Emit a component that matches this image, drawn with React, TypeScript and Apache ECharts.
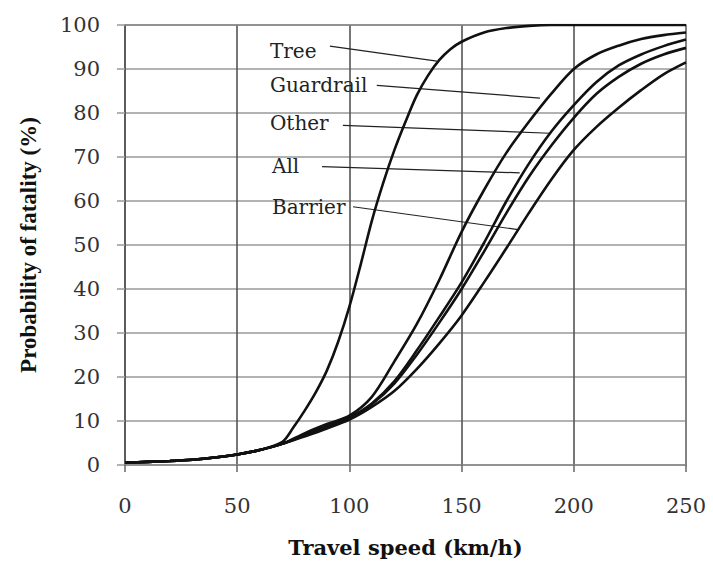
import React, { useEffect, useRef } from "react";
import * as echarts from "echarts";

const speeds = [0, 10, 20, 30, 40, 50, 60, 70, 80, 90, 100, 110, 120, 130, 140, 150, 160, 170, 180, 190, 200, 210, 220, 230, 240, 250];
const guardrail = [0.5, 0.7, 0.9, 1.2, 1.7, 2.4, 3.4, 4.8, 7.2, 9.3, 11.2, 15.5, 23.5, 32, 42, 53, 62.5, 71, 78, 84.4, 90, 93.3, 95.3, 96.8, 97.7, 98.3];
const other = [0.5, 0.7, 0.9, 1.2, 1.7, 2.4, 3.4, 4.8, 6.9, 8.8, 10.8, 14, 19, 26, 33.6, 41.5, 50.5, 60, 68.5, 75.8, 81.8, 87, 90.8, 93.3, 95.2, 96.7];
const all = [0.5, 0.7, 0.9, 1.2, 1.7, 2.4, 3.4, 4.8, 6.7, 8.6, 10.6, 13.8, 18.5, 25, 32.3, 40, 48.5, 57.3, 65.5, 72.6, 78.9, 84.3, 88.2, 91.2, 93.3, 94.8];
const barrier = [0.5, 0.7, 0.9, 1.2, 1.7, 2.4, 3.4, 4.8, 6.5, 8.3, 10.3, 13.2, 16.8, 21.8, 27.6, 34, 41.5, 49.3, 57.3, 64.9, 71.6, 76.8, 81.2, 85.2, 88.8, 91.5];

const treeSpeeds = [0, 10, 20, 30, 40, 50, 60, 70, 75, 80, 85, 90, 95, 100, 105, 110, 115, 120, 125, 130, 135, 140, 145, 150, 160, 170, 180, 190, 200, 225, 250];
const tree = [0.5, 0.7, 0.9, 1.2, 1.7, 2.4, 3.4, 5.2, 8.5, 12.3, 16.5, 21.5, 28, 36, 45.5, 55.5, 64, 71.5, 78, 84, 88.5, 92, 94.5, 96.2, 98.3, 99.3, 99.8, 100, 100, 100, 100];

const xTicks = [0, 50, 100, 150, 200, 250];
const yTicks = [0, 10, 20, 30, 40, 50, 60, 70, 80, 90, 100];

// annotation labels (data coordinates)
const labelNames = ["Tree", "Guardrail", "Other", "All", "Barrier"];
const labelX = [64.6, 64.6, 64.6, 65.5, 65.5];
const labelY = [94.1, 86.3, 77.7, 67.9, 58.7];
const leaderStart = [[91.3, 95.2], [112.2, 86.3], [97.1, 77.2], [87.8, 67.8], [101.6, 58.7]];
const leaderEnd = [[139, 91.8], [184.9, 83.4], [189.3, 75.4], [175.9, 66.4], [175.1, 53.5]];

const SERIF = "'DejaVu Serif', serif";

export default function App() {
  const ref = useRef<HTMLDivElement>(null);
  useEffect(() => {
    if (!ref.current) return;
    const chart = echarts.init(ref.current, undefined, { renderer: "svg", width: 713, height: 563 });
    const curve = (name: string, xs: number[], ys: number[]) => ({
      name,
      type: "line",
      data: xs.map((x, i) => [x, ys[i]]),
      smooth: 0.3,
      symbol: "none",
      lineStyle: { color: "#111", width: 2.6 },
      z: 5,
    });
    const leaders = labelNames.map((n, i) => ({
      name: n + " leader",
      type: "line",
      data: [leaderStart[i], leaderEnd[i]],
      symbol: "none",
      lineStyle: { color: "#222", width: 1.2 },
      z: 4,
    }));
    chart.setOption({
      animation: false,
      backgroundColor: "#fff",
      grid: { left: 125, width: 561, top: 25, height: 452, containLabel: false },
      xAxis: {
        type: "value",
        min: 0,
        max: 250,
        interval: 50,
        name: "Travel speed (km/h)",
        nameLocation: "middle",
        nameGap: 72,
        nameTextStyle: { fontFamily: SERIF, fontWeight: "bold", fontSize: 21, color: "#111" },
        axisLine: { show: true, lineStyle: { color: "#888", width: 1.5 } },
        axisTick: { show: true, length: 7, lineStyle: { color: "#666", width: 1.5 } },
        axisLabel: {
          margin: 30,
          fontFamily: SERIF,
          fontSize: 21,
          color: "#333",
          formatter: (v: number) => (xTicks.includes(v) ? String(v) : ""),
        },
        splitLine: { show: true, lineStyle: { color: "#555", width: 1.6 } },
      },
      yAxis: {
        type: "value",
        min: 0,
        max: 100,
        interval: 10,
        name: "Probability of fatality (%)",
        nameLocation: "middle",
        nameGap: 85,
        nameRotate: 90,
        nameTextStyle: { fontFamily: "'Liberation Serif', serif", fontWeight: "bold", fontSize: 23, color: "#111" },
        axisLine: { show: true, lineStyle: { color: "#555", width: 1.6 } },
        axisTick: { show: true, length: 8, lineStyle: { color: "#999", width: 1.5 } },
        axisLabel: {
          margin: 25,
          fontFamily: SERIF,
          fontSize: 21,
          color: "#333",
          formatter: (v: number) => (yTicks.includes(v) ? String(v) : ""),
        },
        splitLine: { show: true, lineStyle: { color: "#999", width: 1.5 } },
      },
      series: [
        curve("Tree", treeSpeeds, tree),
        curve("Guardrail", speeds, guardrail),
        curve("Other", speeds, other),
        curve("All", speeds, all),
        curve("Barrier", speeds, barrier),
        ...leaders,
      ],
    });
    const tl = chart.convertToPixel({ gridIndex: 0 }, [0, 100]) as number[];
    const br = chart.convertToPixel({ gridIndex: 0 }, [250, 0]) as number[];
    const texts = labelNames.map((n, i) => {
      const p = chart.convertToPixel({ gridIndex: 0 }, [labelX[i], labelY[i]]) as number[];
      return {
        type: "text",
        x: p[0],
        y: p[1],
        z: 10,
        style: {
          text: n,
          fontFamily: SERIF,
          fontSize: 20,
          fill: "#222",
          align: "left",
          verticalAlign: "middle",
        },
      };
    });
    chart.setOption({
      graphic: [
        {
          type: "polyline",
          z: 3,
          shape: { points: [[tl[0], tl[1]], [br[0], tl[1]], [br[0], br[1]]] },
          style: { stroke: "#888", lineWidth: 1.5, fill: "none" },
        },
        ...texts,
      ],
    });
    return () => chart.dispose();
  }, []);
  return <div ref={ref} style={{ width: 713, height: 563, position: "absolute", left: 0, top: 0 }} />;
}
